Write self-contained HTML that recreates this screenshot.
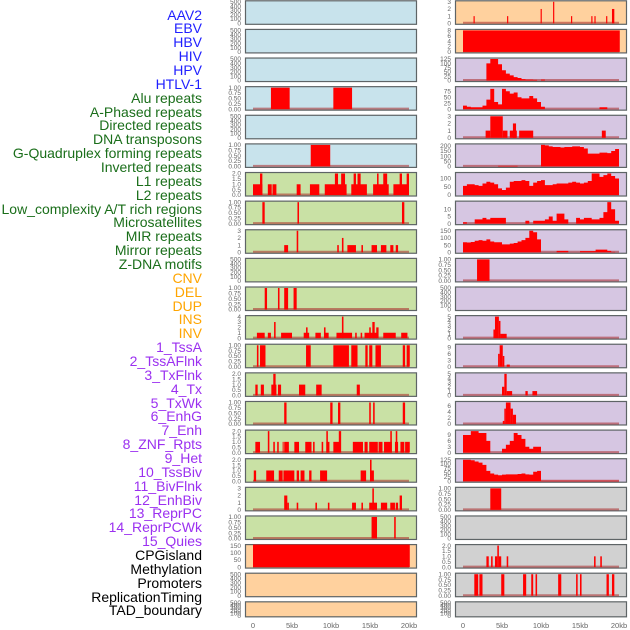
<!DOCTYPE html>
<html><head><meta charset="utf-8">
<style>
html,body{margin:0;padding:0;background:#fff;}
#wrap{position:relative;width:630px;height:630px;overflow:hidden;font-family:"Liberation Sans",sans-serif;}
.lab{position:absolute;right:428px;font-size:14px;line-height:14px;white-space:nowrap;}
svg{position:absolute;left:0;top:0;}
</style></head>
<body>
<div id="wrap">
<svg id="svg" width="630" height="630"></svg>
</div>
<script>
// ---- labels ----
const labelNames = ["AAV2","EBV","HBV","HIV","HPV","HTLV-1","Alu repeats","A-Phased repeats","Directed repeats","DNA transposons","G-Quadruplex forming repeats","Inverted repeats","L1 repeats","L2 repeats","Low_complexity A/T rich regions","Microsatellites","MIR repeats","Mirror repeats","Z-DNA motifs","CNV","DEL","DUP","INS","INV","1_TssA","2_TssAFlnk","3_TxFlnk","4_Tx","5_TxWk","6_EnhG","7_Enh","8_ZNF_Rpts","9_Het","10_TssBiv","11_BivFlnk","12_EnhBiv","13_ReprPC","14_ReprPCWk","15_Quies","CPGisland","Methylation","Promoters","ReplicationTiming","TAD_boundary"];
const labelGroups = [0,0,0,0,0,0,1,1,1,1,1,1,1,1,1,1,1,1,1,2,2,2,2,2,3,3,3,3,3,3,3,3,3,3,3,3,3,3,3,4,4,4,4,4];
const groupColors = ["#1f1fff","#1a6e1a","#ffa500","#9b30f0","#000000"];

// ---- data (kb positions / values) ----
const segL3 = [[2.3,4.7,1],[10.3,12.7,1]];
const segL5 = [[7.4,9.9,1]];
const segL6 = [[0,1.2,1],[0.9,1.2,2],[1.9,2.4,1],[2.5,3,1],[5.6,6.1,1],[7.3,8.5,1],[9.2,12.0,1],[10.5,10.9,2],[11.3,11.8,2],[12.6,14.6,1],[12.9,13.2,2],[13.4,13.8,2],[15.4,17.4,1],[15.9,16.1,2],[16.7,17.2,2],[18,20,1],[18.8,19.1,2],[19.7,20,2]];
const segL7 = [[1.2,1.5,1],[5.7,5.9,1],[19.1,19.4,1]];
const segL8 = [[4.0,4.5,1],[5.6,5.8,3],[10.8,11.0,1],[11.4,11.6,2],[12.1,13.2,1],[13.9,14.1,1],[15.2,15.9,1],[16.4,17.1,1],[17.6,18.0,1],[18.3,18.6,1]];
const segL10 = [[1.5,1.8,1],[3.2,3.4,1],[4.0,4.5,1],[5.2,5.6,1]];
const segL11 = [[0.5,1.5,1],[1.9,2.3,1],[2.7,2.9,3],[3.6,5.0,1],[6.5,7.2,1],[6.8,7.0,2],[8.0,8.7,1],[9.1,9.7,1],[9.1,9.3,2],[10.7,12.7,1],[11.4,11.6,4],[13.1,13.3,1],[13.8,14.0,1],[14.3,15.9,1],[14.9,15.1,2],[15.3,15.6,3],[15.8,16.1,2],[16.7,18.3,1],[19.0,19.8,1]];
const segL12 = [[0.5,0.7,1],[0.9,1.6,1],[6.8,7.4,1],[10.3,12.3,1],[12.6,13.4,1],[14.4,14.7,1],[14.9,15.3,1],[15.7,16.4,1],[19.2,19.5,1],[19.7,20.1,1]];
const segL13 = [[0.3,0.6,1],[1.0,1.4,1],[2.35,3.0,1],[2.6,2.9,2],[3.2,3.6,1],[5.9,6.7,1],[8.1,8.8,1],[13.3,13.7,1]];
const segL14 = [[4.0,4.3,1],[9.9,10.2,1],[10.9,11.2,1],[14.9,15.1,1],[15.4,15.6,1],[19.2,19.5,1]];
const segL15 = [[0.3,0.9,1],[1.9,2.1,2],[2.6,2.8,1],[3.1,3.3,1],[3.8,3.9,1],[4.0,4.6,1],[5.3,5.9,1],[6.7,7.5,1],[7.7,7.9,1],[8.8,9.0,1],[9.4,9.8,1],[9.4,9.6,2],[10.3,11.2,1],[11.0,11.3,2],[12.8,14.1,1],[14.3,14.7,1],[14.9,16.0,1],[16.1,16.6,1],[16.8,17.8,1],[17.6,17.8,2],[18.2,18.6,1],[18.3,18.5,2],[18.9,19.4,1],[19.5,20.1,1]];
const segL16 = [[0.1,0.4,1],[1.7,2.7,1],[3.3,3.8,1],[3.9,5.3,1],[5.6,5.9,1],[6.1,6.6,1],[7.2,7.5,1],[8.6,9.5,1],[13.8,14.5,1],[15.0,15.5,1],[15.0,15.2,2]];
const segL17 = [[4.0,4.4,2],[4.4,4.6,1],[5.6,5.8,1],[8.0,8.2,1],[9.6,9.8,1],[12.7,13.2,1],[13.9,14.1,1],[14.9,15.9,1],[15.3,15.5,3],[16.4,17.2,1],[17.6,18.2,1],[18.3,18.6,1],[18.8,19.1,2]];
const segL18 = [[15.2,15.9,1],[18.1,18.3,1]];
const segL19 = [[0,20.1,160]];
const segR0 = [[1.35,1.5,1],[5.65,5.8,1],[9.95,10.1,2],[11.55,11.7,3],[13.85,14.0,1],[16.45,16.6,1],[16.85,17.0,1],[18.35,18.5,1],[19.1,19.4,2]];
const segR1 = [[0,20.1,8]];
const segR4 = [[2.9,3.5,1],[3.5,5.1,3],[5.1,5.7,1],[6.0,6.9,1],[6.4,6.8,2],[7.2,9.0,1],[17.8,18.3,1]];
const segR9 = [[1.8,3.4,1]];
const segR11 = [[3.9,4.1,2],[4.1,4.6,5],[4.6,4.8,4],[4.8,5.6,1]];
const segR12 = [[4.5,4.7,6],[4.7,5.1,10],[5.1,5.3,5],[5.6,6.0,1]];
const segR13 = [[5.0,5.3,2],[5.3,5.6,5],[5.6,6.3,1],[8.0,8.3,1],[8.9,9.5,1]];
const segR14 = [[5.1,5.3,1],[5.3,5.5,5],[5.5,6.1,7],[6.1,6.4,5],[6.4,6.8,3]];
const segR17 = [[3.5,4.9,1]];
const segR19 = [[3.0,3.3,1],[3.6,3.8,1],[4.1,4.4,1],[4.4,4.6,2],[4.6,4.9,1],[5.6,5.8,1],[16.8,17.0,1],[17.6,17.8,1]];
const segR20 = [[1.45,1.95,1],[2.1,2.5,1],[4.9,5.3,1],[7.7,8.1,1],[8.75,9.0,1],[9.3,9.5,1],[12.2,12.6,1],[14.5,14.7,1],[15.0,15.2,1],[18.4,18.7,1],[19.1,19.4,1]];
// half-kb bins (bin i covers i*0.5 .. i*0.5+0.5 kb)
const binR2 = [0,0,0,0,0,0,100,125,125,95,60,40,30,20,15,8,5,5,4,0,5,0,0,0,0,0,0,0,0,0,0,0,0,0,0,0,0,0,0,0];
const binR3 = [15,10,8,8,8,15,40,85,30,20,85,75,65,70,50,45,45,55,45,30,10,0,0,0,0,0,0,0,0,0,0,0,0,0,0,8,8,0,0,0];
const binR5 = [0,0,0,0,0,0,0,0,0,5,5,5,5,5,0,0,0,0,0,0,210,205,195,190,190,185,190,190,195,195,190,175,125,125,125,135,135,130,150,170];
const binR6 = [55,65,65,60,55,70,80,75,65,40,30,45,80,85,85,90,85,55,75,85,90,60,60,65,70,70,70,75,80,75,70,75,85,130,130,110,120,130,115,100];
const binR7 = [1,0,0,3,3,4,3,4,4,4,4,0,0,0,0,0,2,0,2,2,2,3,5,2,7,7,3,0,0,4,3,4,4,3,3,4,8,15,10,2];
const binR8 = [70,68,72,80,85,80,90,75,70,70,55,55,60,65,75,85,100,150,140,90,0,0,0,0,10,10,10,0,0,0,8,8,8,8,18,18,18,10,3,0];
const binR15 = [9,9,11,11,10,10,6,0,0,0,2,4,6,10,9,7,3,2,3,3,0,0,0,0,0,0,0,0,0,0,0,0,0,0,0,0,0,0,0,0];
const binR16 = [125,125,122,115,108,95,60,45,38,35,38,40,40,40,42,45,40,38,55,60,3,3,3,3,3,3,3,3,3,3,3,3,3,3,3,3,3,3,3,3];

const tEmpty = ["0","100","200","300","400","500"];
const tUnit = ["0.00","0.25","0.50","0.75","1.00"];
const tTwo = ["0.0","0.5","1.0","1.5","2.0"];
const tThree = ["0","1","2","3"];
const BL="#c8e3ec", GR="#c9e1a5", OR="#ffd19e", PU="#d6c6e2", GY="#d1d1d1";
// [col,row,bg,ticks,ymax,segs,bins]
const panels = [
 [0,0,BL,tEmpty,500,null,null],[0,1,BL,tEmpty,500,null,null],[0,2,BL,tEmpty,500,null,null],
 [0,3,BL,tUnit,1,segL3,null],[0,4,BL,tEmpty,500,null,null],[0,5,BL,tUnit,1,segL5,null],
 [0,6,GR,tTwo,2,segL6,null],[0,7,GR,tUnit,1,segL7,null],[0,8,GR,tThree,3,segL8,null],
 [0,9,GR,tEmpty,500,null,null],[0,10,GR,tUnit,1,segL10,null],[0,11,GR,["0","1","2","3","4"],4,segL11,null],
 [0,12,GR,tUnit,1,segL12,null],[0,13,GR,tTwo,2,segL13,null],[0,14,GR,tUnit,1,segL14,null],
 [0,15,GR,tTwo,2,segL15,null],[0,16,GR,tTwo,2,segL16,null],[0,17,GR,tThree,3,segL17,null],
 [0,18,GR,tUnit,1,segL18,null],[0,19,OR,["0","50","100","150"],150,segL19,null],
 [0,20,OR,tEmpty,500,null,null],[0,21,OR,tEmpty,500,null,null],
 [1,0,OR,tThree,3,segR0,null],[1,1,OR,["0","2","4","6","8"],8,segR1,null],
 [1,2,PU,["0","25","50","75","100","125"],125,null,binR2],[1,3,PU,["0","25","50","75"],90,null,binR3],
 [1,4,PU,tThree,3,segR4,null],[1,5,PU,["0","50","100","150","200"],210,null,binR5],
 [1,6,PU,["0","50","100"],130,null,binR6],[1,7,PU,["0","5","10"],15,null,binR7],
 [1,8,PU,["0","50","100","150"],150,null,binR8],[1,9,PU,tUnit,1,segR9,null],
 [1,10,PU,tEmpty,500,null,null],[1,11,PU,["0","1","2","3","4","5"],5,segR11,null],
 [1,12,PU,["0","3","6","9"],10,segR12,null],[1,13,PU,["0","1","2","3","4","5"],5,segR13,null],
 [1,14,PU,["0","2","4","6"],7,segR14,null],[1,15,PU,["0","3","6","9"],11,null,binR15],
 [1,16,PU,["0","25","50","75","100","125"],125,null,binR16],[1,17,GY,tUnit,1,segR17,null],
 [1,18,GY,tEmpty,500,null,null],[1,19,GY,tTwo,2,segR19,null],
 [1,20,GY,tUnit,1,segR20,null],[1,21,GY,tEmpty,500,null,null]
];
const xTickLabels = ["0","5kb","10kb","15kb","20kb"];
const xTickValues = [0,5,10,15,20];

const NS="http://www.w3.org/2000/svg";
const svg=document.getElementById('svg');
function mk(tag,attrs,parent){const e=document.createElementNS(NS,tag);for(const k in attrs)e.setAttribute(k,attrs[k]);(parent||svg).appendChild(e);return e;}

// labels
const wrap=document.getElementById('wrap');
labelNames.forEach((n,i)=>{
  const d=document.createElement('div');
  d.className='lab';
  d.style.top=(15+i*13.86-7.5)+'px';
  d.style.color=groupColors[labelGroups[i]];
  d.textContent=n;
  
  
  wrap.appendChild(d);
});

const colBoxL=[245,455], colX0=[253,463], PXKB=7.8;
function xs(col,kb){return colX0[col]+kb*PXKB;}

panels.forEach(p=>{
  const [col,row,bg,ticks,ymax,segs,bins]=p;
  const top=0.3+row*28.62, h=(row===21?16:24.5);
  const bot=top+h;
  const yb=bot-1.5, yt=top+1.5;
  const ys=v=>yb-(v/ymax)*(yb-yt);
  const g=mk('g',{});
  
  
  const r=mk('rect',{x:colBoxL[col]+0.5,y:top+0.5,width:171,height:h-1,fill:bg,stroke:'#5e6466','stroke-width':1.2},g);
  
  
  // y ticks
  const tickVals=ticks.map(Number), tmax=tickVals[tickVals.length-1];
  ticks.forEach((t,k)=>{
    const y=yb-(tickVals[k]/tmax)*(yb-yt)*(tmax/ymax>1?1:tmax/ymax);
    const tx=mk('text',{x:colBoxL[col]-4,y:y+2.2,'font-size':6.5,fill:'#666','text-anchor':'end','font-family':'Liberation Sans, sans-serif'},g);
    tx.textContent=t;
    
    
  });
  if(segs||bins){
    const bl=mk('line',{x1:xs(col,0),x2:xs(col,20),y1:yb-0.5,y2:yb-0.5,stroke:'rgba(170,40,40,0.55)','stroke-width':2},g);
    
    
  }
  if(segs){
    segs.forEach(s=>{
      const x0=xs(col,s[0]), x1=xs(col,s[1]);
      const b=mk('rect',{x:x0,y:Math.max(yt-1,ys(s[2])),width:Math.max(1,x1-x0),height:yb-Math.max(yt-1,ys(s[2])),fill:'#ff0000'},g);
      
      
    });
  }
  if(bins){
    let d='M'+xs(col,0)+','+yb;
    bins.forEach((v,i)=>{
      const y=Math.max(yt-1,ys(v));
      d+=' L'+xs(col,i*0.5)+','+y+' L'+xs(col,i*0.5+0.5)+','+y;
    });
    d+=' L'+xs(col,20)+','+yb+' Z';
    const a=mk('path',{d:d,fill:'#ff0000'},g);
    
    
  }
});

// x axis ticks
[0,1].forEach(col=>{
  xTickValues.forEach((v,i)=>{
    const t=mk('text',{x:xs(col,v),y:628,'font-size':7.5,fill:'#666','text-anchor':'middle','font-family':'Liberation Sans, sans-serif'});
    t.textContent=xTickLabels[i];
    
    
  });
});
</script>
</body></html>
